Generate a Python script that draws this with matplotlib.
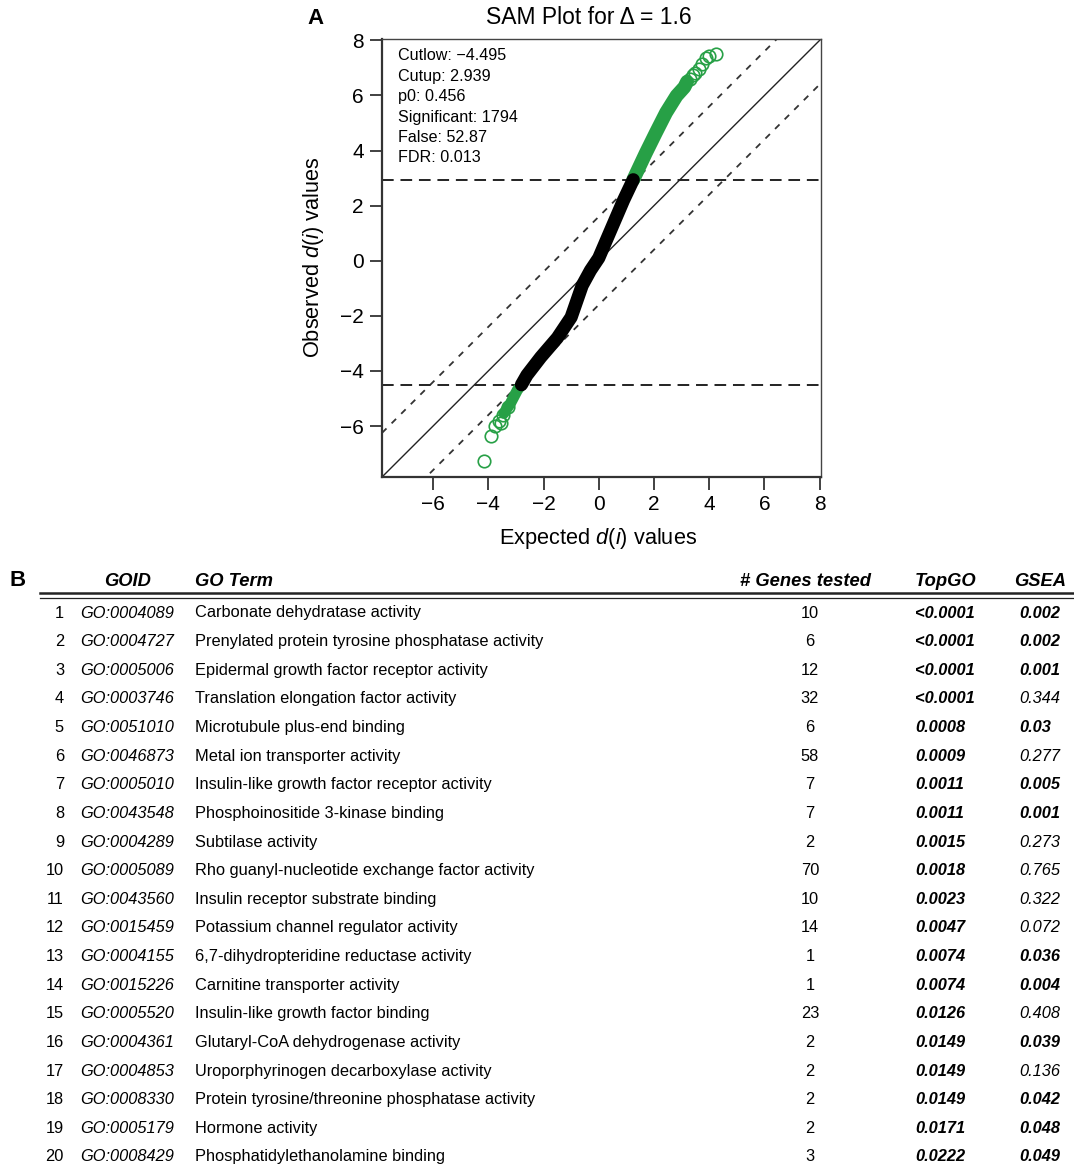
import matplotlib
matplotlib.use('Agg')
import matplotlib.pyplot as plt

plt.rcParams['font.family'] = ['Liberation Sans', 'DejaVu Sans']
plt.rcParams['mathtext.fontset'] = 'custom'
plt.rcParams['mathtext.rm'] = 'Liberation Sans'
plt.rcParams['mathtext.it'] = 'Liberation Sans:italic'

# ---- panel A data ----
delta = 1.6
cutlow = -4.495
cutup = 2.939
black_exp = [-2.8, -2.6, -2.1, -1.5, -1.0, -0.6, -0.3, 0.0, 0.3, 0.6, 0.9, 1.25]
black_obs = [-4.5, -4.15, -3.5, -2.8, -2.05, -0.9, -0.35, 0.1, 0.8, 1.5, 2.2, 2.94]
green_up_exp = [1.25, 1.7, 2.07, 2.44, 2.82, 3.1, 3.2]
green_up_obs = [2.94, 3.9, 4.65, 5.38, 5.99, 6.3, 6.5]
green_up_pts_exp = [3.3, 3.4, 3.5, 3.62, 3.75, 3.9, 3.98, 4.24]
green_up_pts_obs = [6.6, 6.75, 6.8, 6.95, 7.15, 7.35, 7.45, 7.52]
green_lo_exp = [-2.8, -2.95, -3.2, -3.44]
green_lo_obs = [-4.5, -4.7, -5.18, -5.54]
green_lo_pts_exp = [-3.3, -3.45, -3.6, -3.55, -3.75, -3.9, -4.15]
green_lo_pts_obs = [-5.3, -5.6, -5.8, -5.9, -6.0, -6.35, -7.28]
stats = ["Cutlow: \u22124.495", "Cutup: 2.939", "p0: 0.456",
         "Significant: 1794", "False: 52.87", "FDR: 0.013"]
ticks = [-6, -4, -2, 0, 2, 4, 6, 8]

# ---- panel B data ----
ranks = list(range(1, 21))
goids = ["GO:0004089", "GO:0004727", "GO:0005006", "GO:0003746", "GO:0051010",
         "GO:0046873", "GO:0005010", "GO:0043548", "GO:0004289", "GO:0005089",
         "GO:0043560", "GO:0015459", "GO:0004155", "GO:0015226", "GO:0005520",
         "GO:0004361", "GO:0004853", "GO:0008330", "GO:0005179", "GO:0008429"]
terms = ["Carbonate dehydratase activity",
         "Prenylated protein tyrosine phosphatase activity",
         "Epidermal growth factor receptor activity",
         "Translation elongation factor activity",
         "Microtubule plus-end binding",
         "Metal ion transporter activity",
         "Insulin-like growth factor receptor activity",
         "Phosphoinositide 3-kinase binding",
         "Subtilase activity",
         "Rho guanyl-nucleotide exchange factor activity",
         "Insulin receptor substrate binding",
         "Potassium channel regulator activity",
         "6,7-dihydropteridine reductase activity",
         "Carnitine transporter activity",
         "Insulin-like growth factor binding",
         "Glutaryl-CoA dehydrogenase activity",
         "Uroporphyrinogen decarboxylase activity",
         "Protein tyrosine/threonine phosphatase activity",
         "Hormone activity",
         "Phosphatidylethanolamine binding"]
genes = [10, 6, 12, 32, 6, 58, 7, 7, 2, 70, 10, 14, 1, 1, 23, 2, 2, 2, 2, 3]
topgo = ["<0.0001", "<0.0001", "<0.0001", "<0.0001", "0.0008", "0.0009", "0.0011",
         "0.0011", "0.0015", "0.0018", "0.0023", "0.0047", "0.0074", "0.0074",
         "0.0126", "0.0149", "0.0149", "0.0149", "0.0171", "0.0222"]
gsea = ["0.002", "0.002", "0.001", "0.344", "0.03", "0.277", "0.005", "0.001",
        "0.273", "0.765", "0.322", "0.072", "0.036", "0.004", "0.408", "0.039",
        "0.136", "0.042", "0.048", "0.049"]

W, H = 1074, 1170
GREEN = '#27a046'


def fx(px):
    return px / W


def fy(py):
    return 1 - py / H


fig = plt.figure(figsize=(W / 100, H / 100), dpi=100)

# ---------------- panel A ----------------
ax = fig.add_axes([fx(382), fy(477), fx(821) - fx(382), fy(39) - fy(477)])
lim = (-7.85, 8.05)
ax.set_xlim(lim)
ax.set_ylim(lim)

ax.plot(lim, lim, color='#222222', lw=1.0, zorder=1)
ax.plot(lim, [lim[0] + delta, lim[1] + delta], color='#333333', lw=1.3,
        ls=(0, (3.5, 4)), zorder=1)
ax.plot(lim, [lim[0] - delta, lim[1] - delta], color='#333333', lw=1.3,
        ls=(0, (3.5, 4)), zorder=1)
ax.axhline(cutup, color='#222222', lw=1.4, ls=(0, (6, 3.5)), zorder=1)
ax.axhline(cutlow, color='#222222', lw=1.4, ls=(0, (6, 3.5)), zorder=1)

ax.plot(black_exp, black_obs, color='black', lw=9.5, solid_capstyle='round', zorder=3)
ax.plot(green_up_exp, green_up_obs, color=GREEN, lw=10, solid_capstyle='round', zorder=2)
ax.plot(green_lo_exp, green_lo_obs, color=GREEN, lw=8, solid_capstyle='round', zorder=2)
ax.plot(green_up_pts_exp, green_up_pts_obs, ls='none', marker='o', ms=9,
        mfc='none', mec=GREEN, mew=1.2, zorder=2)
ax.plot(green_lo_pts_exp, green_lo_pts_obs, ls='none', marker='o', ms=9,
        mfc='none', mec=GREEN, mew=1.2, zorder=2)

ax.set_xticks(ticks)
ax.set_yticks(ticks)
ax.tick_params(direction='out', length=9, width=1.3, labelsize=15, pad=4,
               color='#333333')
for s in ['left', 'bottom']:
    ax.spines[s].set_linewidth(1.6)
    ax.spines[s].set_color('#333333')
for s in ['top', 'right']:
    ax.spines[s].set_linewidth(1.0)
    ax.spines[s].set_color('#444444')

ax.set_xlabel("Expected $d$($i$) values", fontsize=15.7)
ax.set_ylabel("Observed $d$($i$) values", fontsize=15.7)
ax.xaxis.set_label_coords(0.492, -0.112)
ax.yaxis.set_label_coords(-0.128, 0.502)

for k, s in enumerate(stats):
    fig.text(fx(398), fy(56 + k * 20.4), s, fontsize=11.6, va='center', ha='left')

fig.text(fx(589), fy(17), "SAM Plot for \u0394 = 1.6", fontsize=16.5, ha='center',
         va='center')
fig.text(fx(316), fy(18), "A", fontsize=16, fontweight='bold', ha='center',
         va='center')

# ---------------- panel B ----------------
fig.text(fx(18), fy(581), "B", fontsize=16, fontweight='bold', ha='center',
         va='center')
hdr = dict(fontsize=13.2, fontweight='bold', style='italic', va='center')
fig.text(fx(128), fy(581), "GOID", ha='center', **hdr)
fig.text(fx(195), fy(581), "GO Term", ha='left', **hdr)
fig.text(fx(806), fy(581), "# Genes tested", ha='center', **hdr)
fig.text(fx(946), fy(581), "TopGO", ha='center', **hdr)
fig.text(fx(1040), fy(581), "GSEA", ha='center', **hdr)
fig.add_artist(plt.Line2D([fx(40), fx(1074)], [fy(593), fy(593)], color='#222222',
                          lw=1.8))
fig.add_artist(plt.Line2D([fx(40), fx(1074)], [fy(597.5), fy(597.5)],
                          color='#222222', lw=0.9))

row_fs = 11.8
for i in range(len(ranks)):
    py = 613 + i * 28.63
    fig.text(fx(64), fy(py), str(ranks[i]), fontsize=row_fs, ha='right', va='center')
    fig.text(fx(80), fy(py), goids[i], fontsize=row_fs, style='italic', ha='left',
             va='center')
    fig.text(fx(195), fy(py), terms[i], fontsize=row_fs, ha='left', va='center')
    fig.text(fx(810), fy(py), str(genes[i]), fontsize=row_fs, ha='center',
             va='center')
    fig.text(fx(915), fy(py), topgo[i], fontsize=row_fs, style='italic',
             fontweight='bold', ha='left', va='center')
    bold = float(gsea[i]) < 0.05
    fig.text(fx(1019), fy(py), gsea[i], fontsize=row_fs, style='italic',
             fontweight='bold' if bold else 'normal', ha='left', va='center')

fig.savefig('out.png', dpi=100)
